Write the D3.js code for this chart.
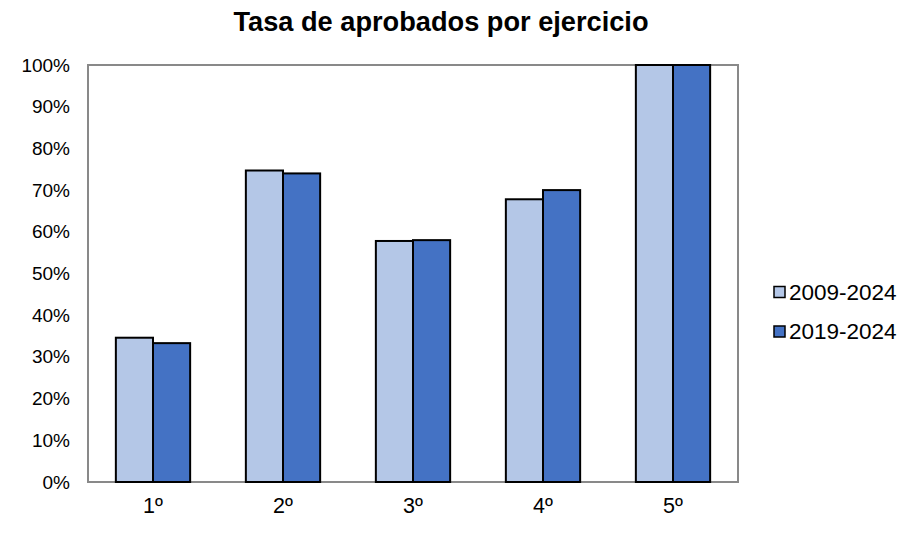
<!DOCTYPE html>
<html><head><meta charset="utf-8">
<script src="https://cdn.jsdelivr.net/npm/d3@7"></script>
<style>body{margin:0;background:#fff}svg{display:block}text{font-family:"Liberation Sans",Arial,sans-serif}</style>
</head><body><svg id="c" width="914" height="539"></svg>
<script>
const categories = ["1º","2º","3º","4º","5º"];
const seriesNames = ["2009-2024","2019-2024"];
const series2009 = [0.346, 0.747, 0.578, 0.678, 1.0];
const series2019 = [0.333, 0.740, 0.580, 0.700, 1.0];
const yTicks = [0,0.1,0.2,0.3,0.4,0.5,0.6,0.7,0.8,0.9,1.0];
const colors = ["#b4c7e7","#4472c4"];

const svg = d3.select("#c");
const m = {l:88, t:65, r:738, b:482};
const x = d3.scaleBand().domain(categories).range([m.l, m.r]).paddingInner(0).paddingOuter(0);
const gap = 1.5;
const bw = x.bandwidth()/(2+gap);
const xs = d3.scaleBand().domain(seriesNames).range([bw*gap/2, bw*gap/2 + 2*bw]);
const y = d3.scaleLinear().domain([0,1]).range([m.b, m.t]);
const FONT = "'Liberation Sans',Arial,sans-serif";

svg.append("text").attr("x",441).attr("y",31).attr("text-anchor","middle")
  .attr("font-size",27.2).attr("font-weight","bold").text("Tasa de aprobados por ejercicio");

// plot frame
svg.append("rect").attr("x",m.l).attr("y",m.t).attr("width",m.r-m.l).attr("height",m.b-m.t)
  .attr("fill","none").attr("stroke","#898989").attr("stroke-width",2);

const data = categories.map((c,i)=>({c, vals:[series2009[i], series2019[i]]}));
const g = svg.append("g");
data.forEach(d=>{
  d.vals.forEach((v,j)=>{
    g.append("rect").attr("x",x(d.c)+xs(seriesNames[j])).attr("y",y(v))
      .attr("width",xs.bandwidth()).attr("height",y(0)-y(v))
      .attr("fill",colors[j]).attr("stroke","#000").attr("stroke-width",2);
  });
});

// y axis
const ya = svg.append("g").attr("transform",`translate(${m.l},0)`)
  .call(d3.axisLeft(y).tickValues(yTicks).tickFormat(d3.format(".0%")).tickSize(0).tickPadding(18));
ya.select(".domain").remove();
ya.selectAll("text").attr("font-size",19).attr("fill","#000").style("font-family",FONT);

// x axis
const xa = svg.append("g").attr("transform",`translate(0,${m.b})`)
  .call(d3.axisBottom(x).tickSize(0).tickPadding(16));
xa.select(".domain").remove();
xa.selectAll("text").attr("font-size",21.5).attr("fill","#000").style("font-family",FONT);

// legend
const lg = svg.append("g");
seriesNames.forEach((s,i)=>{
  const yy = 292 + i*39.5;
  lg.append("rect").attr("x",774).attr("y",yy-5.5).attr("width",11).attr("height",11)
    .attr("fill",colors[i]).attr("stroke","#000").attr("stroke-width",1.5);
  lg.append("text").attr("x",789).attr("y",yy).attr("dy","0.35em").attr("font-size",22.5).text(s);
});
</script></body></html>
